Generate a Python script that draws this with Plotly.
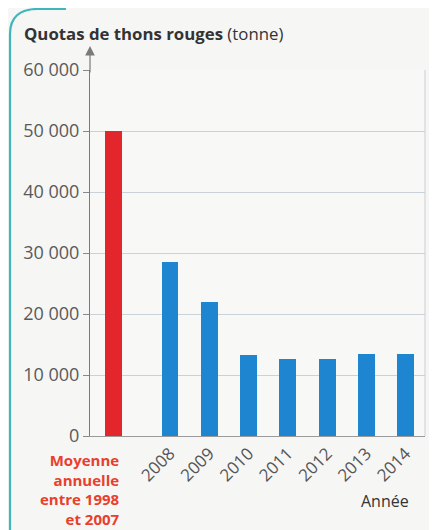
import plotly.graph_objects as go

# ---- data ----
years = [2008, 2009, 2010, 2011, 2012, 2013, 2014]
quotas = [28500, 22000, 13300, 12700, 12700, 13400, 13400]
avg_label = "Moyenne<br>annuelle<br>entre 1998<br>et 2007"
avg_value = 50000
avg_pos = 2006.56  # category slot of the average bar on the year axis
y_ticks = [0, 10000, 20000, 30000, 40000, 50000, 60000]
y_ticktext = ["0", "10 000", "20 000", "30 000", "40 000", "50 000", "60 000"]
title_bold = "Quotas de thons rouges"
title_unit = "(tonne)"
x_title = "Année"

OFF = 8  # page body margin
W, H = 437 - OFF, 530 - OFF
L, R, T, B = 90 - OFF, 12, 70 - OFF, 94
pw, ph = W - L - R, H - T - B

def px2paper(px, py):
    # page pixel coordinates -> paper coordinates
    return (px - OFF - L) / pw, (H - B - (py - OFF)) / ph

BAR_W = 0.43
FONT = "Open Sans"

fig = go.Figure()
fig.add_trace(go.Bar(x=[avg_pos], y=[avg_value], width=BAR_W,
                     marker=dict(color="#e2262c", line=dict(width=0)),
                     showlegend=False, hoverinfo="skip"))
fig.add_trace(go.Bar(x=years, y=quotas, width=BAR_W,
                     marker=dict(color="#1e86d1", line=dict(width=0)),
                     showlegend=False))

fig.update_layout(
    width=W, height=H,
    margin=dict(l=L, r=R, t=T, b=B, autoexpand=False),
    paper_bgcolor="#f6f6f5", plot_bgcolor="#f8f8f7",
    font=dict(family=FONT, color="#555555"),
    bargap=0,
)
fig.update_xaxes(
    range=[2005.965, 2014.49], tickvals=years, ticktext=[str(y) for y in years],
    tickangle=-45, tickfont=dict(size=17, color="#555555"),
    showgrid=False, zeroline=False, showline=True, linecolor="#9a9a9a", linewidth=1,
    ticks="", fixedrange=True,
)
fig.update_yaxes(
    range=[0, 60000], tickvals=y_ticks, ticktext=y_ticktext,
    tickfont=dict(size=18, color="#5a5a5a"),
    showgrid=True, gridcolor="#c9d2d8", gridwidth=1, zeroline=False,
    showline=True, linecolor="#7a7a7a", linewidth=1.2,
    ticks="outside", ticklen=6, tickcolor="#8a8a8a", fixedrange=True,
)

# right border of chart frame
fig.add_shape(type="line", xref="paper", yref="paper", x0=1, x1=1, y0=0, y1=1,
              line=dict(color="#c9cfd4", width=1))

# teal frame decoration
pts = [px2paper(10, 540), px2paper(10, 34), px2paper(10, 9), px2paper(38, 9), px2paper(66, 9)]
path = "M {:.4f},{:.4f} L {:.4f},{:.4f} Q {:.4f},{:.4f} {:.4f},{:.4f} L {:.4f},{:.4f}".format(
    *pts[0], *pts[1], *pts[2], *pts[3], *pts[4])
fig.add_shape(type="path", xref="paper", yref="paper", path=path,
              line=dict(color="#3fb6bb", width=2.2))

# y axis arrow
ax_top = px2paper(90, 46)
fig.add_annotation(xref="paper", yref="paper", x=0, y=ax_top[1], ax=0, ay=28,
                   text="", showarrow=True, arrowhead=2, arrowsize=1.6,
                   arrowwidth=1.2, arrowcolor="#7a7a7a", standoff=0)

# title
tx, ty = px2paper(22, 33)
fig.add_annotation(xref="paper", yref="paper", x=tx, y=ty, xanchor="left", yanchor="middle",
                   text=f"<b>{title_bold}</b> {title_unit}", showarrow=False,
                   font=dict(size=16.8, color="#333333", family=FONT))

# average label
lx, ly = px2paper(0, 448)
fig.add_annotation(xref="x", yref="paper", x=avg_pos + BAR_W / 2, y=ly,
                   xanchor="right", yanchor="top", align="right",
                   text=f"<b>{avg_label}</b>", showarrow=False,
                   font=dict(size=15, color="#e8402c", family=FONT))

# x axis title
ax_, ay_ = px2paper(385, 501)
fig.add_annotation(xref="paper", yref="paper", x=ax_, y=ay_, xanchor="center", yanchor="middle",
                   text=x_title, showarrow=False,
                   font=dict(size=16, color="#333333", family=FONT))

fig.write_html("out.html")
